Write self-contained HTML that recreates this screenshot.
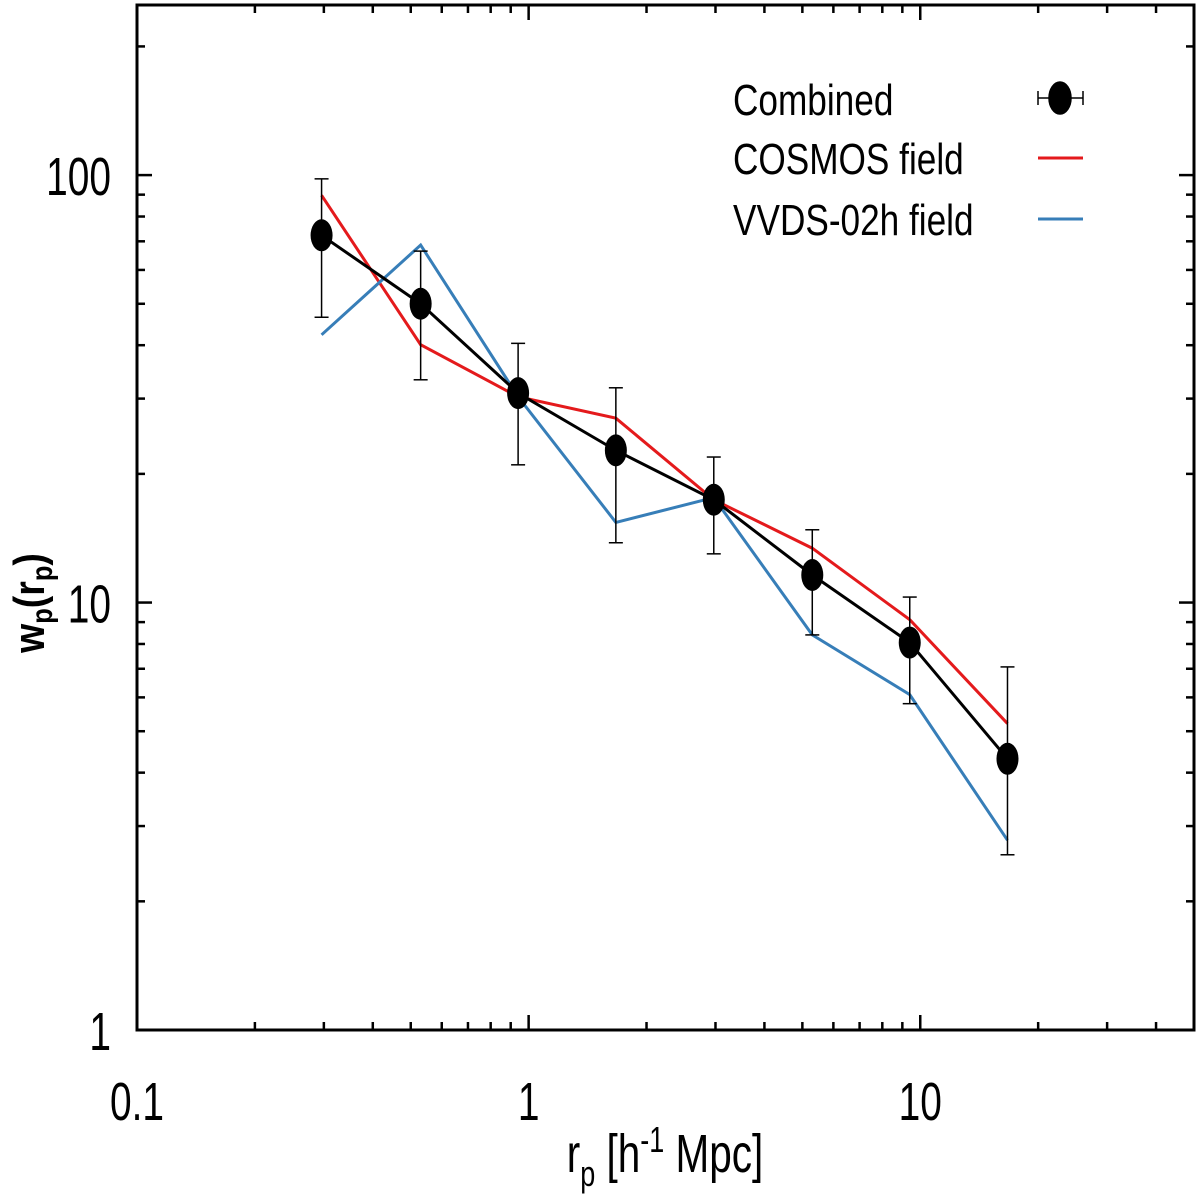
<!DOCTYPE html>
<html><head><meta charset="utf-8"><style>
body{margin:0;background:#fff}
svg text{font-family:"Liberation Sans",sans-serif;fill:#000}
</style></head><body>
<svg id="chart" width="1200" height="1195" xmlns="http://www.w3.org/2000/svg">
<g id="ticks"></g>
<g id="series"></g>
<rect x="137" y="5" width="1057" height="1025" fill="none" stroke="#000" stroke-width="3"/>
<text transform="translate(665,1172) scale(0.75,1)" font-size="54" text-anchor="middle">r<tspan font-size="36" dy="14">p</tspan><tspan dy="-14"> [h</tspan><tspan font-size="36" dy="-20">-1</tspan><tspan dy="20"> Mpc]</tspan></text>
<text transform="translate(44,603) rotate(-90) scale(0.85,1)" font-size="44" font-weight="bold" text-anchor="middle">w<tspan font-size="30" dy="8">p</tspan><tspan dy="-8">(r</tspan><tspan font-size="30" dy="8">p</tspan><tspan dy="-8">)</tspan></text>
<g>
<text transform="translate(733,115) scale(0.8,1)" font-size="44">Combined</text>
<text transform="translate(733,174) scale(0.8,1)" font-size="44">COSMOS field</text>
<text transform="translate(733,235) scale(0.8,1)" font-size="44">VVDS-02h field</text>
<g stroke="#000" stroke-width="1.5">
<line x1="1038" y1="98" x2="1083" y2="98"/><line x1="1038" y1="91" x2="1038" y2="105"/><line x1="1083" y1="91" x2="1083" y2="105"/>
<ellipse cx="1060" cy="98" rx="11" ry="16" fill="#000"/></g>
<line x1="1038" y1="158" x2="1083" y2="158" stroke="#e41a1c" stroke-width="3"/>
<line x1="1038" y1="219" x2="1083" y2="219" stroke="#377eb8" stroke-width="3"/>
</g>
</svg>
<script>
const rp = [0.296, 0.53, 0.94, 1.67, 2.97, 5.3, 9.4, 16.7];
const combined = [72.3, 50.0, 30.9, 22.7, 17.4, 11.6, 8.06, 4.31];
const errHigh = [98, 66.4, 40.4, 31.8, 21.9, 14.8, 10.3, 7.07];
const errLow = [46.5, 33.2, 21.0, 13.8, 13.0, 8.4, 5.8, 2.57];
const cosmos = [89.7, 40.1, 30.3, 27.0, 17.4, 13.4, 9.12, 5.21];
const vvds = [42.3, 68.6, 30.3, 15.4, 17.6, 8.4, 6.09, 2.78];
const xTickLabels = ["0.1", "1", "10"];
const yTickLabels = ["1", "10", "100"];

const NS = "http://www.w3.org/2000/svg";
const X0 = 137, X1 = 1194, Y0 = 1030, Y1 = 5;
const xmin = Math.log10(0.1), xmax = Math.log10(50), ymin = 0, ymax = Math.log10(250);
function sx(v){return X0 + (Math.log10(v) - xmin) / (xmax - xmin) * (X1 - X0);}
function sy(v){return Y0 - (Math.log10(v) - ymin) / (ymax - ymin) * (Y0 - Y1);}
function mk(tag, attrs, parent){const e = document.createElementNS(NS, tag); for (const k in attrs) e.setAttribute(k, attrs[k]); parent.appendChild(e); return e;}

const tg = document.getElementById("ticks");
for (let d = 0.1; d < 50; d *= 10) {
  for (let m = 1; m <= 9; m++) {
    const v = d * m; if (v > 50) break;
    const x = sx(v), L = m === 1 ? 15 : 8;
    const t1 = mk("line", {x1: x, y1: Y0, x2: x, y2: Y0 - L, stroke: "#000", "stroke-width": 2.5}, tg);
    
    
    const t2 = mk("line", {x1: x, y1: Y1, x2: x, y2: Y1 + L, stroke: "#000", "stroke-width": 2.5}, tg);
    
    
  }
}
for (let d = 1; d < 250; d *= 10) {
  for (let m = 1; m <= 9; m++) {
    const v = d * m; if (v > 250) break;
    const y = sy(v), L = m === 1 ? 15 : 8;
    const t1 = mk("line", {x1: X0, y1: y, x2: X0 + L, y2: y, stroke: "#000", "stroke-width": 2.5}, tg);
    
    
    const t2 = mk("line", {x1: X1, y1: y, x2: X1 - L, y2: y, stroke: "#000", "stroke-width": 2.5}, tg);
    
    
  }
}
xTickLabels.forEach(s => {
  const t = mk("text", {transform: "translate(" + sx(parseFloat(s)) + ",1120) scale(0.72,1)", "font-size": 54, "text-anchor": "middle"}, tg);
  t.textContent = s;
  
  
});
yTickLabels.forEach(s => {
  const t = mk("text", {transform: "translate(111," + (sy(parseFloat(s)) + 20) + ") scale(0.72,1)", "font-size": 54, "text-anchor": "end"}, tg);
  t.textContent = s;
  
  
});

const sg = document.getElementById("series");
function line(vals, color, name){
  const p = mk("polyline", {points: vals.map((v, i) => sx(rp[i]) + "," + sy(v)).join(" "), fill: "none", stroke: color, "stroke-width": 3}, sg);
  
  
}
line(cosmos, "#e41a1c", "cosmos-line");
line(vvds, "#377eb8", "vvds-line");
line(combined, "#000", "combined-line");
rp.forEach((r, i) => {
  const x = sx(r);
  const g = mk("g", {stroke: "#000", "stroke-width": 1.5}, sg);
  
  
  mk("line", {x1: x, y1: sy(errLow[i]), x2: x, y2: sy(errHigh[i])}, g);
  mk("line", {x1: x - 7, y1: sy(errLow[i]), x2: x + 7, y2: sy(errLow[i])}, g);
  mk("line", {x1: x - 7, y1: sy(errHigh[i]), x2: x + 7, y2: sy(errHigh[i])}, g);
  const e = mk("ellipse", {cx: x, cy: sy(combined[i]), rx: 11, ry: 16, fill: "#000"}, sg);
  
  
});
</script>
</body></html>
